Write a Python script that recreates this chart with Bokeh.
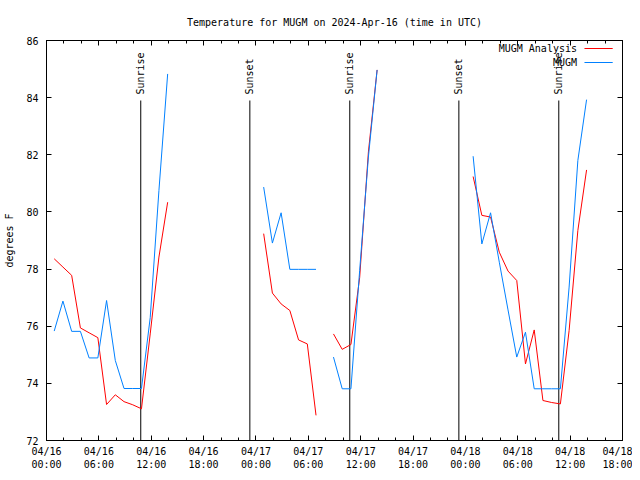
import math
import pandas as pd
from bokeh.plotting import figure
from bokeh.models import (FixedTicker, DatetimeTickFormatter, DatetimeAxis,
                          LinearAxis, Range1d)
from bokeh.core.properties import value
from bokeh.embed import file_html
from bokeh.resources import INLINE

FONT = "DejaVu Sans Mono"
FS = "10px"

# ---------------- data (hourly, segments separated by gaps) ----------------
seg_starts = ["2024-04-16 00:53", "2024-04-17 00:53",
              "2024-04-17 08:53", "2024-04-18 00:53"]

analysis_1 = [78.36, 78.07, 77.78, 75.94, 75.77, 75.60, 73.26, 73.60, 73.36,
              73.25, 73.11, 75.73, 78.42, 80.34]
analysis_2 = [79.24, 77.16, 76.78, 76.55, 75.52, 75.38, 72.88]
analysis_3 = [75.73, 75.19, 75.36, 77.70, 82.10, 84.97]
analysis_4 = [81.24, 79.88, 79.82, 78.59, 77.93, 77.60, 74.68, 75.87, 73.40,
              73.33, 73.28, 75.85, 79.35, 81.47]

observed_1 = [75.83, 76.88, 75.82, 75.82, 74.89, 74.89, 76.90, 74.80, 73.82,
              73.82, 73.82, 76.30, 80.75, 84.83]
observed_2 = [80.87, 78.91, 79.97, 77.99, 77.99, 77.99, 77.99]
observed_3 = [74.92, 73.81, 73.81, 77.95, 81.92, 84.97]
observed_4 = [81.95, 78.88, 79.97, 78.24, 76.57, 74.92, 75.79, 73.81, 73.81,
              73.81, 73.81, 77.37, 81.80, 83.93]

sun_times = ["2024-04-16 10:48", "2024-04-16 23:18", "2024-04-17 10:45",
             "2024-04-17 23:15", "2024-04-18 10:42"]
sun_labels = ["Sunrise", "Sunset", "Sunrise", "Sunset", "Sunrise"]

x_start = "2024-04-16 00:00"
x_end = "2024-04-18 18:00"
y_min, y_max = 72, 86
y_ticks = [72, 74, 76, 78, 80, 82, 84, 86]
series_names = ["MUGM Analysis", "MUGM"]


def ms(t):
    return pd.Timestamp(t).value / 1e6


xs, ya, yo = [], [], []
for start, a, o in zip(seg_starts,
                       [analysis_1, analysis_2, analysis_3, analysis_4],
                       [observed_1, observed_2, observed_3, observed_4]):
    t = pd.date_range(start, periods=len(a), freq="h")
    xs += [v / 1e6 for v in t.asi8] + [float("nan")]
    ya += a + [float("nan")]
    yo += o + [float("nan")]

x0, x1 = ms(x_start), ms(x_end)
major = [v / 1e6 for v in pd.date_range(x_start, x_end, freq="6h").asi8]
minor = [v / 1e6 for v in pd.date_range(x_start, x_end, freq="2h").asi8]

p = figure(width=632, height=472, x_axis_type="datetime",
           x_range=Range1d(x0, x1), y_range=Range1d(y_min, y_max),
           output_backend="svg", toolbar_location=None,
           min_border_left=46, min_border_right=10,
           min_border_top=40, min_border_bottom=32)

p.title.text = "Temperature for MUGM on 2024-Apr-16 (time in UTC)"
p.title.align = "center"
p.title.text_font = FONT
p.title.text_font_size = FS
p.title.text_font_style = "normal"
p.title.text_color = "black"
p.title.standoff = 26

p.grid.visible = False
p.outline_line_color = "black"
p.outline_line_width = 1
p.background_fill_color = "white"
p.border_fill_color = "white"

fmt = DatetimeTickFormatter(hours="%m/%d\n%H:%M", days="%m/%d\n%H:%M",
                            hourmin="%m/%d\n%H:%M", minutes="%m/%d\n%H:%M",
                            months="%m/%d\n%H:%M")
xt = FixedTicker(ticks=major, minor_ticks=minor)
yt = FixedTicker(ticks=y_ticks)


def style_axis(ax, show_labels):
    ax.axis_line_color = "black"
    ax.major_tick_line_color = "black"
    ax.minor_tick_line_color = "black"
    ax.major_tick_out = 0
    ax.minor_tick_out = 0
    ax.major_tick_in = 5
    ax.minor_tick_in = 3
    ax.major_label_text_font = FONT
    ax.major_label_text_font_size = FS if show_labels else "0px"
    ax.major_label_text_color = "black"
    if not show_labels:
        ax.major_label_text_alpha = 0
        ax.major_label_standoff = 0


xb = p.xaxis[0]
xb.ticker = xt
xb.formatter = fmt
style_axis(xb, True)
xb.major_label_standoff = 5

yl = p.yaxis[0]
yl.ticker = yt
style_axis(yl, True)
yl.minor_tick_in = 0
yl.major_label_standoff = 8
yl.axis_label = "degrees F"
yl.axis_label_text_font = FONT
yl.axis_label_text_font_size = FS
yl.axis_label_text_font_style = "normal"
yl.axis_label_text_color = "black"
yl.axis_label_standoff = 8

xa = DatetimeAxis(ticker=xt, formatter=fmt)
style_axis(xa, False)
p.add_layout(xa, "above")

yr = LinearAxis(ticker=yt)
style_axis(yr, False)
yr.minor_tick_in = 0
p.add_layout(yr, "right")

# sunrise / sunset markers
sx = [ms(t) for t in sun_times]
p.segment(x0=sx, y0=[y_min] * len(sx), x1=sx,
          y1=[y_min + 0.85 * (y_max - y_min)] * len(sx),
          line_color="black", line_width=1)
p.text(x=sx, y=[y_min + 0.865 * (y_max - y_min)] * len(sx), text=sun_labels,
       angle=math.pi / 2, text_align="left", text_baseline="middle",
       text_font=value(FONT), text_font_size=FS, text_color="black")

# data lines
p.line(xs, ya, line_color="#ff0000", line_width=1)
p.line(xs, yo, line_color="#0080ff", line_width=1)

# legend (text left of sample line, like the original)
span = x1 - x0
lx_text = x0 + 0.921 * span
lx0 = x0 + 0.934 * span
lx1 = x0 + 0.983 * span
ly = [y_min + 0.98 * (y_max - y_min), y_min + 0.945 * (y_max - y_min)]
p.text(x=[lx_text, lx_text], y=ly, text=series_names, text_align="right",
       text_baseline="middle", text_font=value(FONT), text_font_size=FS,
       text_color="black")
p.segment(x0=[lx0, lx0], y0=ly, x1=[lx1, lx1], y1=ly,
          line_color=["#ff0000", "#0080ff"], line_width=1)

open("out.html", "w").write(file_html(p, INLINE))
